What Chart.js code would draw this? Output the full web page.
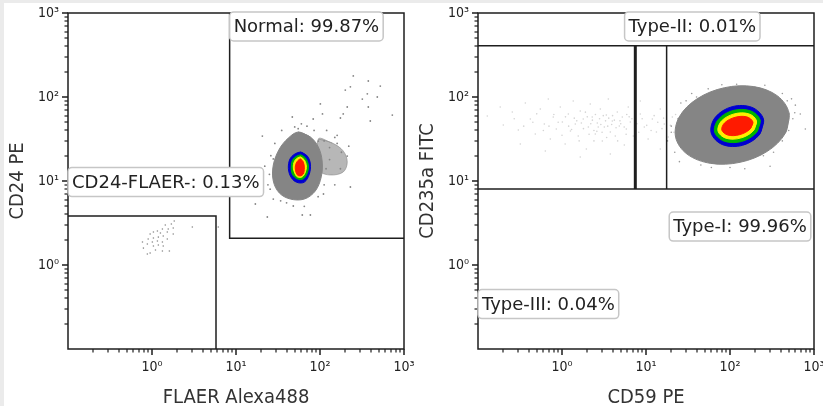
<!DOCTYPE html>
<html>
<head>
<meta charset="utf-8">
<script src="https://cdn.jsdelivr.net/npm/chart.js@4.4.1/dist/chart.umd.min.js"></script>
<style>
  body { margin: 0; background: #ebebeb; width: 823px; height: 406px; overflow: hidden; position: relative; }
  #painel { position: absolute; left: 4px; top: 3px; width: 819px; height: 403px; background: #fff; }
  canvas { position: absolute; top: 0; }
  #graficoFlaer { left: 0; width: 420px; height: 406px; }
  #graficoCd59 { left: 410px; width: 413px; height: 406px; }
</style>
</head>
<body>
<div id="painel"></div>
<canvas id="graficoFlaer" width="420" height="406"></canvas>
<canvas id="graficoCd59" width="413" height="406"></canvas>
<script>
// eixos (log, 10^-1 .. 10^3)
const limitesEixo = [0.1, 1000];
const valoresDecada = [1, 10, 100, 1000];
const rotulosDecada = ['10⁰', '10¹', '10²', '10³'];
const multiplicadoresMenores = [2, 3, 4, 5, 6, 7, 8, 9];

// --- grafico 1: FLAER x CD24 ---
const flaerCinza = [[55.2,38.3],[76.8,33.4],[95.5,25.4],[106,17.3],[103.5,11.2],[87.9,7.6],[65.1,6.1],[44.3,6.1],[32.8,7.2],[27.8,10.0],[27.8,15.5],[32.8,24.0],[42.0,32.5]];
const flaerLobo = [[95.5,31.6],[140,28.3],[189,22.8],[211,16.8],[189,12.8],[133,11.8],[101,13.2]];
const flaerAzul = [[58.2,22.1],[70.7,19.8],[76.8,15.9],[74.6,12.1],[65.1,9.7],[52.2,9.7],[44.3,11.5],[42.0,15.1],[45.5,19.3]];
const flaerVerde = [[58.2,20.4],[67.0,18.8],[72.6,15.5],[70.7,12.5],[63.2,10.6],[53.7,10.6],[46.8,12.1],[45.5,15.1],[48.1,18.3]];
const flaerAmarelo = [[58.2,19.3],[65.1,17.8],[68.8,15.1],[67.0,12.8],[61.5,11.2],[53.7,11.2],[49.4,12.8],[48.1,15.1],[50.8,17.8]];
const flaerVermelho = [[58.2,18.3],[63.2,16.8],[65.1,14.3],[63.2,12.1],[58.2,11.5],[53.7,11.8],[50.8,13.9],[52.2,16.4]];
const flaerDispersos = [[249,178],[376,155],[230,132],[522,135],[200,121],[319,94.6],[366,109],[481,100],[211,76],[376,76],[726,61],[101,82.6],[107,62.8],[189,62.8],[175,56.2],[397,51.8],[83,54.7],[46.8,57.8],[95.5,29.9],[20.6,34.3],[23.6,3.73],[61.5,3.94],[76.8,3.94],[17.0,5.32],[230,8.48],[211,19.8],[27.8,6.1],[48.1,5.04],[27.8,18.3],[35,40],[70,45],[120,40],[160,35],[25,12],[150,9],[110,7],[40,5.5],[65,5],[130,25],[60,48],[55,42],[24,9],[22,15],[100,12],[130,18],[180,22],[88,8],[38,7],[26,20],[29,28],[50,44],[85,40],[112,30],[118,14],[112,9],[95,6.5],[34,5.8],[25.5,8],[160,28],[175,14],[220,26],[150,33]];
const flaerNegativos = [[1.84,3.34],[1.70,3.08],[1.44,2.99],[1.79,2.76],[1.56,2.68],[1.33,2.68],[1.16,2.54],[1.52,2.47],[1.26,2.40],[1.04,2.47],[0.95,2.34],[1.79,2.34],[1.36,2.21],[1.19,2.15],[1.04,2.10],[0.90,2.04],[1.52,2.04],[1.16,1.93],[1.01,1.88],[1.33,1.88],[0.77,1.88],[0.88,1.78],[1.19,1.73],[1.04,1.68],[1.36,1.68],[0.79,1.59],[1.10,1.51],[1.33,1.47],[1.61,1.47],[0.88,1.35],[0.95,1.39],[3.02,2.83],[6.15,2.83]];
const gateNormal = [[8.4,1000],[8.4,2.08],[1000,2.08]];
const gateNegativo = [[0.1,3.83],[5.78,3.83],[5.78,0.1]];
const rotulosFlaer = [
  { texto: 'Normal: 99.87%', x: 8.4, y: 691 },
  { texto: 'CD24-FLAER-: 0.13%', x: 0.1, y: 9.7 },
];

// --- grafico 2: CD59 x CD235a ---
const cd59Cinza = [[504,64.7],[457,37.2],[279,22.6],[132,16.7],[59.1,16.2],[30.8,20.9],[22.5,33.3],[24.9,58.0],[40.6,95.2],[85.8,129],[192,133],[368,103]];
const cd59Azul = [[250,54.7],[224,35.6],[141,26.6],[81.5,27.1],[59.7,37.3],[66.7,57.3],[106,76.7],[183,75.2]];
const cd59Verde = [[228,53.4],[206,37.7],[137,29.5],[85.3,29.8],[65.6,38.2],[72.6,54.1],[109,69.1],[175,68.5]];
const cd59Amarelo = [[207,52.1],[189,39.5],[133,32.4],[89.4,32.3],[72.0,39.2],[79.0,51.7],[112,62.9],[167,63.1]];
const cd59Vermelho = [[187,50.5],[173,41.4],[130,35.6],[94.7,35.2],[79.9,40.4],[86.5,49.3],[115,57.3],[158,58.0]];
const cd59Bordas = [[18,30],[20,45],[25,17],[600,80],[560,55],[300,15],[150,14],[60,14.5],[28,60],[40,100],[80,140],[200,130],[480,90],[687,62.8],[789,41.6],[26,85],[35,110],[500,40],[330,22],[20,38],[24,55],[30,90],[55,125],[120,142],[260,138],[420,110],[540,95],[590,65],[420,30],[250,20],[100,14.5],[45,15.5],[22,22]];
const cd59Fracos = [[0.129,59.4],[0.200,46.4],[0.256,66.3],[0.302,40.5],[0.366,84.8],[0.420,54.7],[0.481,36.3],[0.552,72.0],[0.616,47.7],[0.687,94.6],[0.726,31.6],[0.787,57.8],[0.855,41.6],[0.954,76.0],[1.01,50.4],[1.09,27.6],[1.19,62.8],[1.26,39.4],[1.36,89.6],[1.44,47.7],[1.56,34.3],[1.65,68.1],[1.79,54.7],[1.95,24.0],[2.06,43.9],[2.17,82.6],[2.29,57.8],[2.49,36.3],[2.63,49.0],[2.86,72.0],[3.02,29.9],[3.19,43.9],[3.37,61.1],[3.56,94.6],[3.76,38.3],[3.97,51.8],[4.31,34.3],[4.55,66.3],[4.81,45.1],[5.22,57.8],[5.52,26.8],[5.83,41.6],[6.15,76.0],[6.50,50.4],[7.06,34.3],[8.55,62.8],[9.54,43.9],[10.6,31.6],[11.9,54.7],[13.3,38.3],[14.8,72.0],[16.5,47.7],[18.4,33.4],[20.6,57.8],[23.0,40.5],[24.9,27.6],[27.0,51.8],[0.319,27.6],[0.633,22.8],[1.65,19.3],[3.76,21.0],[0.184,76.0],[14.8,24.0],[8.55,89.6],[1.5,52],[2.2,48],[2.8,55],[3.5,45],[1.8,42],[2.5,62],[4.2,53],[1.2,45],[3.0,38],[2.0,58],[0.9,50],[5.0,48],[6.8,55],[4.0,60],[2.7,44],[1.4,56],[3.3,52],[0.7,45],[2.4,40],[5.9,62],[1.1,58],[1.7,49],[2.3,53],[2.9,47],[3.6,56],[4.4,43],[1.3,41],[2.1,36],[3.1,60],[4.9,52],[0.8,62],[0.6,40],[1.9,66],[2.6,39],[3.9,47],[5.5,44],[6.3,58],[7.8,48],[8.2,38],[9.0,55],[10.2,46],[11.5,40],[12.5,60],[13.8,50],[15.5,42],[16.2,56],[19.5,46],[21.5,38],[22.5,62],[26,44],[1.0,35],[1.6,30],[2.4,30],[3.4,33],[4.6,30],[0.45,50],[0.5,63],[0.35,45],[0.27,55],[5.8,36]];
const linhaSuperior = [[0.1,408],[1000,408]];
const linhaInferior = [[0.1,8.03],[1000,8.03]];
const corteTipoIII = [[7.46,8.03],[7.46,408]];
const corteTipoII = [[17.6,8.03],[17.6,408]];
const rotulosCd59 = [
  { texto: 'Type-II: 0.01%', x: 5.56, y: 691 },
  { texto: 'Type-I: 99.96%', x: 18.9, y: 2.87 },
  { texto: 'Type-III: 0.04%', x: 0.1, y: 0.343 },
];

const fonteEixo = '"DejaVu Sans Condensed", "Liberation Sans", sans-serif';
const fonteRotulo = '"DejaVu Sans", sans-serif';

function pares(lista) {
  return lista.map(([x, y]) => ({ x: x, y: y }));
}

// contorno fechado: repete os dois primeiros vertices para a curva nao fazer bico
function poligono(pontos, cor, ordem) {
  return {
    data: pares(pontos.concat([pontos[0], pontos[1]])),
    showLine: true, fill: 'shape', tension: 0.35,
    backgroundColor: cor, borderColor: cor, borderWidth: 1,
    pointRadius: 0, order: ordem,
  };
}

function nuvem(pontos, cor, raio, ordem) {
  return { data: pares(pontos), showLine: false, backgroundColor: cor, borderWidth: 0, pointRadius: raio, order: ordem };
}

function gate(pontos, largura) {
  return { data: pares(pontos), showLine: true, fill: false, borderColor: '#1e1e1e', borderWidth: largura, pointRadius: 0, order: 0 };
}

function listaTicks() {
  let lista = [];
  valoresDecada.forEach(d => {
    multiplicadoresMenores.forEach(m => lista.push({ value: m * d / 10, major: false }));
    lista.push({ value: d, major: true });
  });
  return lista;
}

function rotuloTick(valor) {
  let i = valoresDecada.findIndex(d => Math.abs(d - valor) < d * 1e-6);
  return i === -1 ? '' : rotulosDecada[i];
}

// marcas dos eixos, moldura e caixas de texto
function pluginMoldura(rotulos) {
  return {
    id: 'moldura',
    afterDraw(chart) {
      const { ctx, chartArea: a, scales } = chart;
      ctx.save();
      ctx.fillStyle = '#1e1e1e';
      listaTicks().forEach(t => {
        let tam = t.major ? 6 : 3.5;
        let larg = t.major ? 1.5 : 1.2;
        let px = Math.round(scales.x.getPixelForValue(t.value));
        ctx.fillRect(px - larg / 2, a.bottom, larg, tam);
        let py = Math.round(scales.y.getPixelForValue(t.value));
        ctx.fillRect(a.left - tam, py - larg / 2, tam, larg);
      });

      ctx.strokeStyle = '#1e1e1e';
      ctx.lineWidth = 1.5;
      ctx.strokeRect(a.left, a.top, a.right - a.left, a.bottom - a.top);

      ctx.font = '18px ' + fonteRotulo;
      ctx.textBaseline = 'middle';
      rotulos.forEach(r => {
        let x0 = scales.x.getPixelForValue(r.x);
        let yc = scales.y.getPixelForValue(r.y);
        let larg = ctx.measureText(r.texto).width + 8;
        let alt = 29;
        ctx.beginPath();
        ctx.roundRect(x0, yc - alt / 2, larg, alt, 4);
        ctx.fillStyle = '#ffffff';
        ctx.fill();
        ctx.strokeStyle = '#c6c6c6';
        ctx.lineWidth = 1.5;
        ctx.stroke();
        ctx.fillStyle = '#222';
        ctx.fillText(r.texto, x0 + 4, yc + 1);
      });
      ctx.restore();
    },
  };
}

function escalaLog(titulo, horizontal) {
  return {
    type: 'logarithmic',
    min: limitesEixo[0],
    max: limitesEixo[1],
    position: horizontal ? 'bottom' : 'left',
    border: { display: false },
    grid: { display: false, drawTicks: false },
    ticks: {
      autoSkip: false, maxRotation: 0,
      padding: horizontal ? 10 : 9,
      color: '#222',
      font: { family: fonteEixo, size: 14 },
      callback: rotuloTick,
    },
    title: {
      display: true, text: titulo, color: '#333',
      font: { family: fonteEixo, size: 20, lineHeight: 0.85 },
      padding: horizontal ? { top: 0, bottom: 0 } : { top: 9, bottom: 0 },
    },
    afterBuildTicks: (escala) => { escala.ticks = listaTicks(); },
    afterFit: (escala) => {
      if (horizontal) escala.height = 57; else escala.width = 68;
      escala.paddingLeft = 0; escala.paddingRight = 0;
      escala.paddingTop = 0; escala.paddingBottom = 0;
    },
  };
}

function criarGrafico(id, datasets, tituloX, tituloY, rotulos, margemDireita) {
  const canvas = document.getElementById(id);
  return new Chart(canvas.getContext('2d'), {
    type: 'scatter',
    data: { datasets: datasets },
    options: {
      responsive: false,
      animation: false,
      events: [],
      layout: { padding: { top: 13, right: margemDireita, left: 0, bottom: 0 } },
      plugins: { legend: { display: false }, tooltip: { enabled: false } },
      scales: { x: escalaLog(tituloX, true), y: escalaLog(tituloY, false) },
    },
    plugins: [pluginMoldura(rotulos)],
  });
}

criarGrafico('graficoFlaer', [
  gate(gateNormal, 1.5),
  gate(gateNegativo, 1.5),
  poligono(flaerVermelho, '#ff1a00', 1),
  poligono(flaerAmarelo, '#ffee00', 2),
  poligono(flaerVerde, '#00b400', 3),
  poligono(flaerAzul, '#0000d0', 4),
  poligono(flaerCinza, '#858585', 5),
  poligono(flaerLobo, 'rgba(135,135,135,0.6)', 6),
  nuvem(flaerDispersos, '#858585', 0.9, 7),
  nuvem(flaerNegativos, '#8a8a8a', 0.8, 7),
], 'FLAER Alexa488', 'CD24 PE', rotulosFlaer, 16);

criarGrafico('graficoCd59', [
  gate(linhaSuperior, 1.5),
  gate(linhaInferior, 1.5),
  gate(corteTipoIII, 3),
  gate(corteTipoII, 1.5),
  poligono(cd59Vermelho, '#ff1a00', 1),
  poligono(cd59Amarelo, '#ffee00', 2),
  poligono(cd59Verde, '#00b400', 3),
  poligono(cd59Azul, '#0000d0', 4),
  poligono(cd59Cinza, '#858585', 5),
  nuvem(cd59Bordas, '#9a9a9a', 0.8, 6),
  nuvem(cd59Fracos, '#d4d4d4', 0.8, 7),
], 'CD59 PE', 'CD235a FITC', rotulosCd59, 9);
</script>
</body>
</html>
